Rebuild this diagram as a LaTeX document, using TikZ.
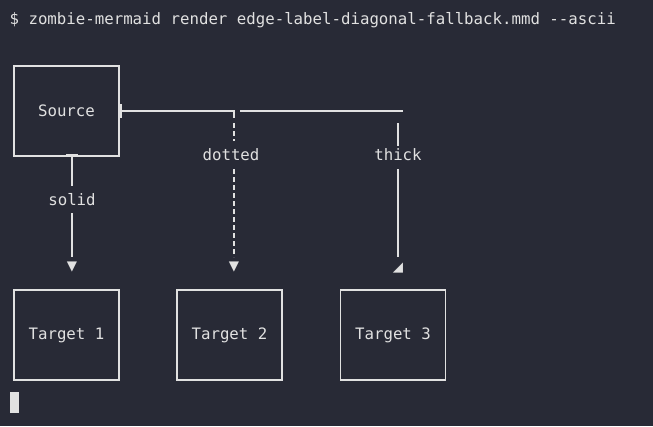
\documentclass[tikz,border=0pt]{standalone}
\usepackage{fontspec}
\setmonofont{DejaVu Sans Mono}
\definecolor{termbg}{RGB}{40,42,54}
\definecolor{termfg}{RGB}{225,225,225}
\begin{document}
\begin{tikzpicture}[x=0.75pt,y=-0.75pt,
    txt/.style={text=termfg,font=\ttfamily\fontsize{11.8}{13}\selectfont,inner sep=1pt},
    box/.style={draw=termfg,line width=0.9pt,minimum width=78.75pt,minimum height=67.5pt,inner sep=0pt},
    wire/.style={draw=termfg,line width=0.9pt},
    tip/.style={text=termfg,font=\fontsize{10}{10}\selectfont\fontspec{DejaVu Sans},inner sep=0pt}]
    \fill[termbg] (0,0) rectangle (653,426);
    \useasboundingbox (0,0) rectangle (653,426);

    \node[txt,anchor=west] (cmd) at (8,20) {\$ zombie-mermaid render edge-label-diagonal-fallback.mmd --ascii};

    \node[box,txt] (src) at (66.5,111) {Source};
    \node[box,txt] (t1) at (66.5,335) {Target 1};
    \node[box,txt] (t2) at (229.5,335) {Target 2};
    \node[box,txt] (t3) at (393,335) {Target 3};

    % edge labels
    \node[txt] (lsolid) at (72,200) {solid};
    \node[txt] (ldotted) at (231,155) {dotted};
    \node[txt] (lthick) at (398,155) {thick};

    % arrow tips
    \node[tip] (a1) at (72,267) {▼};
    \node[tip] (a2) at (234,267) {▼};
    \node[tip] (a3) at (398,268) {◢};

    % route points
    \coordinate (s0) at (121,111);
    \coordinate (s1) at (234,111);
    \coordinate (s2) at (240,111);
    \coordinate (s3) at (403,111);
    \coordinate (b0) at (72,155);

    % solid
    \draw[wire] (66,155) -- (78,155);
    \draw[wire] (b0) -- (72,186);
    \draw[wire] (72,213) -- (72,257);
    % top run
    \draw[wire] (121,104) -- (121,118);
    \draw[wire] (s0) -- (s1) -- (234,118);
    \draw[wire] (s2) -- (s3);
    % dotted
    \draw[wire,dash pattern=on 4pt off 2pt] (234,123) -- (234,141);
    \draw[wire,dash pattern=on 4pt off 2pt] (234,169) -- (234,257);
    % thick
    \draw[wire,line width=1.3pt] (398,123) -- (398,146);
    \draw[wire,line width=1.3pt] (398,169) -- (398,257);

    % cursor
    \fill[termfg] (10,392) rectangle (19,413);
\end{tikzpicture}
\end{document}
